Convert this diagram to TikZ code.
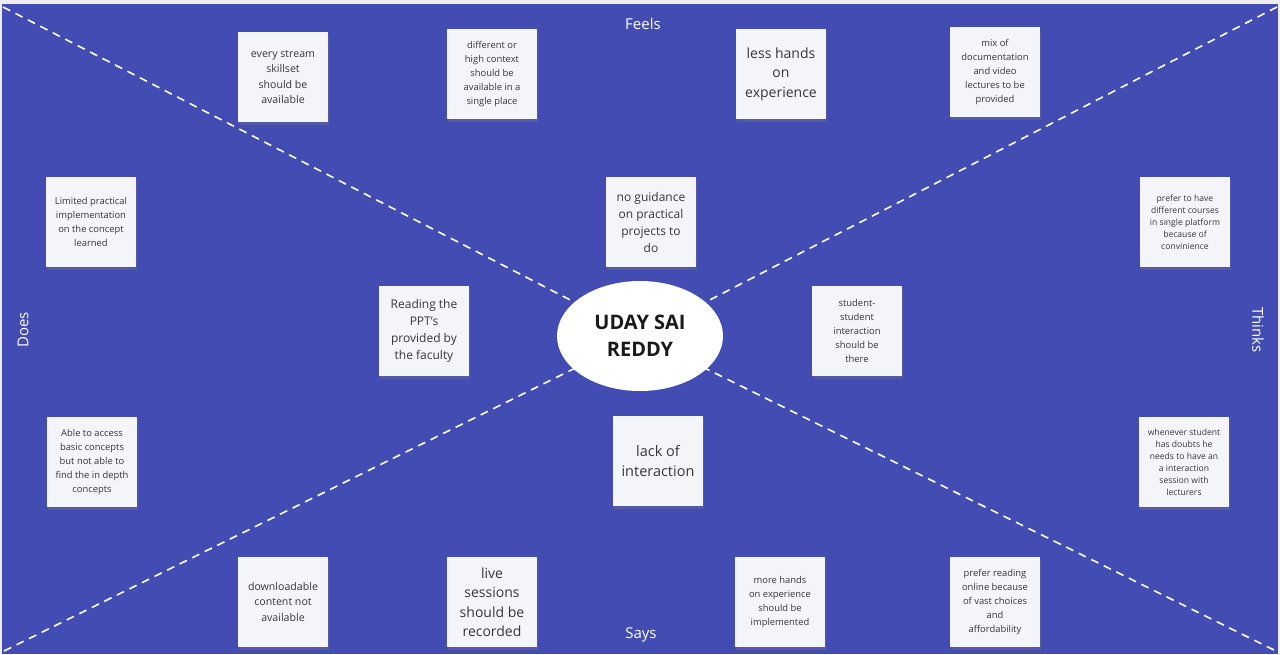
\documentclass[tikz,border=0pt]{standalone}
\usepackage{fontspec}
\setmainfont{Open Sans}
\usetikzlibrary{shapes.geometric,shadows,backgrounds}

\definecolor{boardblue}{RGB}{66,76,178}
\definecolor{boardgray}{RGB}{238,238,242}
\definecolor{notepaper}{RGB}{244,245,249}
\definecolor{notetext}{RGB}{55,55,58}

\newcommand{\notesize}[2]{\fontsize{#1}{#2}\selectfont}

\begin{document}
\begin{tikzpicture}[x=1pt,y=-1pt]
%			board is measured in pixels of the sheet
			\tikzset{
			  NoteStyle/.style = { rectangle, fill=notepaper, text=notetext,
			                       minimum width=90pt, minimum height=90pt,
			                       inner sep=2pt, align=center,
			                       drop shadow={shadow xshift=1pt, shadow yshift=-3pt,
			                                    opacity=0.3} },
			  TinyNote/.style  = { NoteStyle, font=\notesize{8.6}{12} },
			  SmallNote/.style = { NoteStyle, font=\notesize{9.4}{13.8} },
			  MidNote/.style   = { NoteStyle, font=\notesize{10.6}{15.2} },
			  BigNote/.style   = { NoteStyle, font=\notesize{12}{17} },
			  HugeNote/.style  = { NoteStyle, font=\notesize{14}{19.5} },
			  QuadLabel/.style = { text=white, font=\notesize{15}{18} },
			  SplitLine/.style = { white, dash pattern=on 8pt off 6pt, line width=1.6pt } }
			\useasboundingbox (0,0) rectangle (1280,654);
			\coordinate (tl) at (3,7);
			\coordinate (tr) at (1277,7);
			\coordinate (bl) at (4,651);
			\coordinate (br) at (1274,650);
			\node[ellipse, fill=white, minimum width=166pt, minimum height=110pt,
			      inner sep=0pt, align=center, text=black!90,
			      font=\notesize{20}{27}\bfseries] (persona) at (640,336) {UDAY SAI\\REDDY};
			\begin{scope}[on background layer]
			\fill[boardgray] (0,0) rectangle (1280,654);
			\fill[boardblue] (2,4) rectangle (1278,654);
			\draw[SplitLine] (tl) -- (persona.center);
			\draw[SplitLine] (tr) -- (persona.center);
			\draw[SplitLine] (bl) -- (persona.center);
			\draw[SplitLine] (br) -- (persona.center);
			\end{scope}
			\node[QuadLabel] (feels) at (643,24) {Feels};
			\node[QuadLabel] (says) at (641,635) {Says};
			\node[QuadLabel, rotate=90] (does) at (23,330) {Does};
			\node[QuadLabel, rotate=-90] (thinks) at (1258,330) {Thinks};
			% feels
			\node[MidNote] (stream) at (283,77) {every stream\\skillset\\should be\\available};
			\node[SmallNote] (context) at (492,74) {different or\\high context\\should be\\available in a\\single place};
			\node[HugeNote] (lesshands) at (781,74) {less hands\\on\\experience};
			\node[SmallNote] (mix) at (995,72) {mix of\\documentation\\and video\\lectures to be\\provided};
			% middle row
			\node[SmallNote] (limited) at (91,222) {Limited practical\\implementation\\on the concept\\learned};
			\node[BigNote] (guidance) at (651,222) {no guidance\\on practical\\projects to\\do};
			\node[TinyNote] (courses) at (1185,222) {prefer to have\\different courses\\in single platform\\because of\\convinience};
			\node[BigNote] (ppt) at (424,331) {Reading the\\PPT's\\provided by\\the faculty};
			\node[SmallNote] (peers) at (857,331) {student-\\student\\interaction\\should be\\there};
			\node[SmallNote] (access) at (92,462) {Able to access\\basic concepts\\but not able to\\find the in depth\\concepts};
			\node[HugeNote, font=\notesize{14.5}{20.5}] (lack) at (658,461) {lack of\\interaction};
			\node[TinyNote] (doubts) at (1184,462) {whenever student\\has doubts he\\needs to have an\\a interaction\\session with\\lecturers};
			% says
			\node[MidNote] (download) at (283,602) {downloadable\\content not\\available};
			\node[HugeNote] (live) at (492,602) {live\\sessions\\should be\\recorded};
			\node[SmallNote] (morehands) at (780,602) {more hands\\on experience\\should be\\implemented};
			\node[SmallNote] (online) at (995,602) {prefer reading\\online because\\of vast choices\\and\\affordability};
		\end{tikzpicture}
\end{document}
